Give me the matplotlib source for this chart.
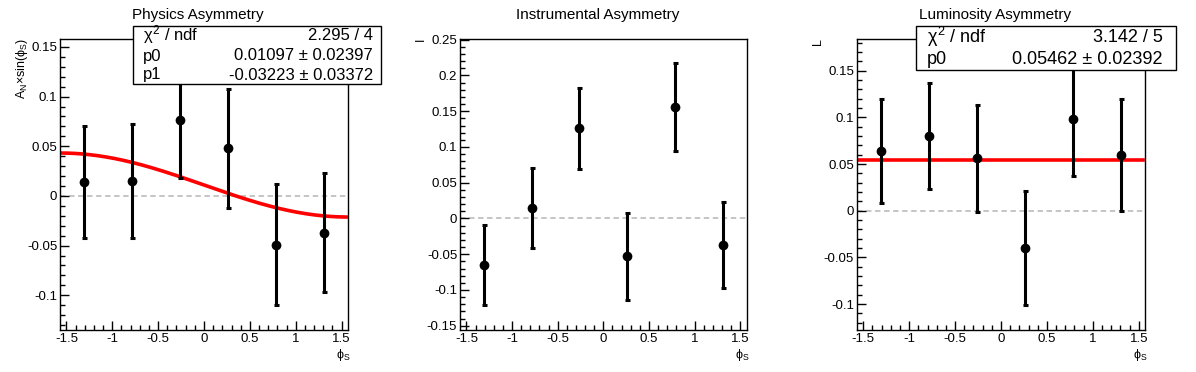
import numpy as np
import matplotlib
matplotlib.use('Agg')
import matplotlib.pyplot as plt
from matplotlib.patches import Rectangle
from matplotlib.ticker import MultipleLocator, FormatStrFormatter

plt.rcParams['font.family'] = ['Liberation Sans', 'DejaVu Sans']
plt.rcParams['mathtext.fontset'] = 'custom'
plt.rcParams['mathtext.rm'] = 'Liberation Sans'
plt.rcParams['mathtext.it'] = 'Liberation Sans'
plt.rcParams['axes.unicode_minus'] = False

W, H = 1196, 372

# data
phi = [-1.309, -0.785, -0.262, 0.262, 0.785, 1.309]

phys_y = [0.014, 0.015, 0.076, 0.048, -0.049, -0.037]
phys_err = [0.056, 0.057, 0.058, 0.060, 0.061, 0.060]
phys_p0, phys_p1 = 0.01097, -0.03223

instr_y = [-0.065, 0.015, 0.126, -0.053, 0.156, -0.037]
instr_err = [0.056, 0.056, 0.057, 0.061, 0.061, 0.060]

lumi_y = [0.064, 0.080, 0.056, -0.040, 0.098, 0.060]
lumi_err = [0.056, 0.057, 0.057, 0.061, 0.061, 0.060]
lumi_p0 = 0.05462

titles = ['Physics Asymmetry', 'Instrumental Asymmetry', 'Luminosity Asymmetry']
ylabels = [r'A$_{N}$$\times$sin($\phi_{S}$)', 'I', 'L']
ylims = [(-0.135, 0.158), (-0.156, 0.251), (-0.1277, 0.184)]
ylbl_x = [22, 421, 818]


def fx(x):
    return x / W


def fy(y):
    return 1 - y / H


fig = plt.figure(figsize=(W / 100, H / 100), dpi=100)

# axes frames in pixels: left, right
frames = [(60, 348), (460, 746.7), (856.7, 1145.3)]
axes = []
for (l, r) in frames:
    ax = fig.add_axes([fx(l), fy(330), (r - l) / W, (330 - 39) / H])
    axes.append(ax)

datasets = [(phys_y, phys_err), (instr_y, instr_err), (lumi_y, lumi_err)]

for i, ax in enumerate(axes):
    y, e = datasets[i]
    ax.set_xlim(-np.pi / 2, np.pi / 2)
    ax.set_ylim(*ylims[i])
    ax.axhline(0, color='#c0c0c0', ls=(0, (3, 2)), lw=1.3, zorder=1)
    ax.errorbar(phi, y, yerr=e, fmt='o', color='black', ms=6, elinewidth=2.2,
                capsize=1.8, capthick=2.2, zorder=3)
    ax.xaxis.set_major_locator(MultipleLocator(0.5))
    ax.xaxis.set_minor_locator(MultipleLocator(0.1))
    ax.yaxis.set_major_locator(MultipleLocator(0.05))
    ax.yaxis.set_minor_locator(MultipleLocator(0.01))
    ax.xaxis.set_major_formatter(FormatStrFormatter('%g'))
    ax.yaxis.set_major_formatter(FormatStrFormatter('%g'))
    ax.tick_params(which='both', direction='in', top=False, right=False,
                   labelsize=9.5, width=1)
    ax.tick_params(which='major', length=6.5, pad=2)
    ax.tick_params(which='minor', length=3.6)
    for s in ax.spines.values():
        s.set_linewidth(1)
    l, r = frames[i]
    fig.text(fx((l + r) / 2 - 6), fy(15), titles[i], ha='center', va='center', fontsize=11)
    fig.text(fx(ylbl_x[i]), fy(38), ylabels[i], rotation=90, ha='center', va='top', fontsize=9)
    fig.text(fx(r - 5), fy(355), r'$\phi_{S}$', ha='center', va='center', fontsize=9)

# fit curves
xf = np.linspace(-np.pi / 2, 1.55, 200)
axes[0].plot(xf, phys_p0 + phys_p1 * np.sin(xf), color='red', lw=2.6, zorder=2)
axes[2].plot(xf, np.full_like(xf, lumi_p0), color='red', lw=2.6, zorder=2)

# stats boxes
fig.add_artist(Rectangle((fx(133), fy(84)), (381 - 133) / W, (84 - 26) / H,
                         transform=fig.transFigure, facecolor='white',
                         edgecolor='black', lw=1, zorder=5))
rows1 = [(r'$\chi^{2}$ / ndf', '2.295 / 4'),
         ('p0', f'{phys_p0:.5f} ± 0.02397'),
         ('p1', f'{phys_p1:.5f} ± 0.03372')]
for j, (a, b) in enumerate(rows1):
    yy = [35, 56, 75][j]
    fig.text(fx(143), fy(yy), a, ha='left', va='center', fontsize=12, zorder=6)
    fig.text(fx(373), fy(yy), b, ha='right', va='center', fontsize=12, zorder=6)

fig.add_artist(Rectangle((fx(916), fy(70)), (1176 - 916) / W, (70 - 26) / H,
                         transform=fig.transFigure, facecolor='white',
                         edgecolor='black', lw=1, zorder=5))
rows3 = [(r'$\chi^{2}$ / ndf', '3.142 / 5'),
         ('p0', f'{lumi_p0:.5f} ± 0.02392')]
for j, (a, b) in enumerate(rows3):
    yy = [37, 59][j]
    fig.text(fx(927), fy(yy), a, ha='left', va='center', fontsize=13, zorder=6)
    fig.text(fx(1163), fy(yy), b, ha='right', va='center', fontsize=13, zorder=6)

fig.savefig('out.png', dpi=100)
